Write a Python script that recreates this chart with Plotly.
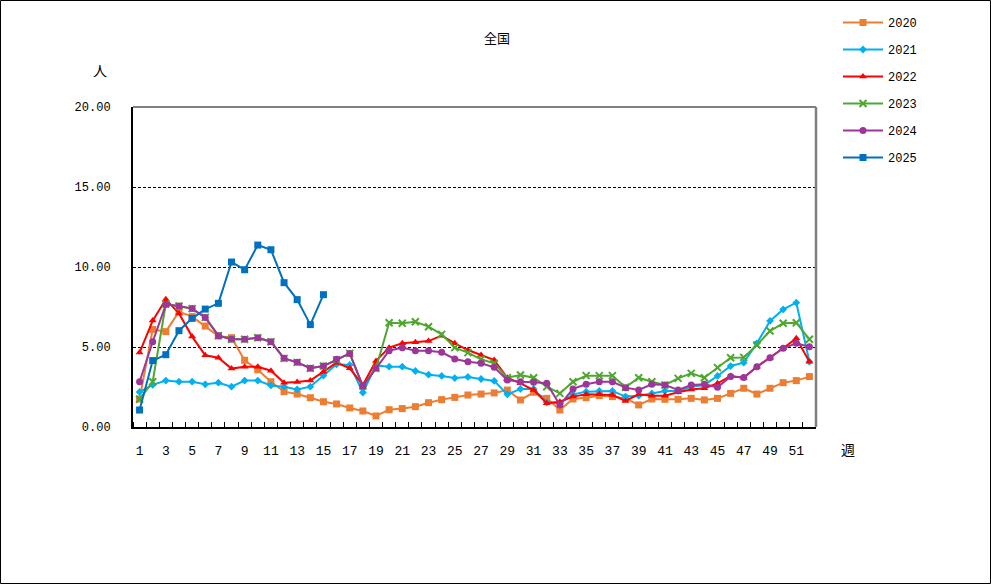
import plotly.graph_objects as go

weeks = list(range(1, 53))
tick_weeks = list(range(1, 53, 2))

y2020 = [1.75, 6.10, 5.96, 7.21, 6.90, 6.31, 5.69, 5.58, 4.17, 3.58,
         2.83, 2.21, 2.06, 1.83, 1.58, 1.44, 1.19, 1.00, 0.69, 1.08,
         1.15, 1.27, 1.52, 1.71, 1.85, 2.00, 2.06, 2.13, 2.31, 1.69,
         2.17, 1.79, 1.06, 1.75, 1.83, 1.96, 1.90, 1.79, 1.38, 1.75,
         1.73, 1.73, 1.79, 1.69, 1.79, 2.10, 2.42, 2.06, 2.42, 2.77,
         2.90, 3.15]
y2021 = [2.19, 2.63, 2.90, 2.83, 2.83, 2.67, 2.77, 2.52, 2.90, 2.90,
         2.60, 2.52, 2.35, 2.52, 3.22, 3.92, 3.88, 2.15, 3.85, 3.77,
         3.77, 3.50, 3.27, 3.19, 3.06, 3.13, 3.00, 2.88, 2.04, 2.38,
         2.38, 1.54, 1.48, 2.04, 2.21, 2.25, 2.25, 1.90, 1.96, 2.10,
         2.25, 2.25, 2.52, 2.63, 3.19, 3.81, 4.02, 5.23, 6.63, 7.35,
         7.77, 4.08]
y2022 = [4.65, 6.65, 7.98, 7.10, 5.65, 4.48, 4.33, 3.65, 3.77, 3.77,
         3.52, 2.77, 2.81, 2.90, 3.46, 4.02, 3.67, 2.63, 4.13, 4.96,
         5.23, 5.29, 5.37, 5.71, 5.23, 4.81, 4.50, 4.19, 3.08, 2.73,
         2.31, 1.48, 1.58, 1.90, 2.04, 2.04, 2.00, 1.63, 2.04, 1.96,
         1.96, 2.17, 2.35, 2.42, 2.73, 3.19, 3.08, 3.77, 4.33, 4.92,
         5.54, 4.08]
y2023 = [1.73, 2.83, 7.69, 7.56, 7.40, 6.85, 5.71, 5.48, 5.48, 5.58,
         5.33, 4.29, 4.04, 3.67, 3.81, 4.19, 4.60, 2.56, 3.67, 6.52,
         6.48, 6.58, 6.27, 5.79, 4.96, 4.65, 4.23, 3.98, 3.08, 3.25,
         3.08, 2.52, 2.10, 2.83, 3.21, 3.21, 3.21, 2.48, 3.08, 2.83,
         2.63, 3.04, 3.35, 3.08, 3.71, 4.33, 4.35, 5.13, 6.00, 6.48,
         6.52, 5.48]
y2024 = [2.83, 5.33, 7.65, 7.56, 7.40, 6.85, 5.71, 5.48, 5.48, 5.58,
         5.33, 4.29, 4.04, 3.67, 3.81, 4.23, 4.60, 2.56, 3.67, 4.77,
         4.96, 4.77, 4.77, 4.67, 4.25, 4.08, 3.98, 3.73, 2.94, 2.83,
         2.79, 2.73, 1.38, 2.38, 2.67, 2.83, 2.83, 2.46, 2.31, 2.67,
         2.63, 2.31, 2.63, 2.67, 2.48, 3.15, 3.10, 3.77, 4.33, 4.92,
         5.23, 5.02]
y2025 = [1.06, 4.15, 4.52, 6.02, 6.79, 7.37, 7.73, 10.31, 9.83, 11.37,
         11.08, 9.02, 7.96, 6.40, 8.27]

series = [
    ("2020", y2020, "#ED7D31", "square", 7),
    ("2021", y2021, "#00B0F0", "diamond", 6),
    ("2022", y2022, "#FF0000", "triangle-up", 7),
    ("2023", y2023, "#4EA72E", "x-thin-open", 7),
    ("2024", y2024, "#9E3598", "circle", 7),
    ("2025", y2025, "#0070C0", "square", 7),
]

NUMFONT = "Liberation Mono, Noto Sans CJK JP, monospace"
CJKFONT = "Noto Sans CJK JP, sans-serif"

fig = go.Figure()
for name, ys, color, sym, size in series:
    mk = dict(symbol=sym, size=size, color=color)
    if sym == "x-thin-open":
        mk["line"] = dict(color=color, width=2)
    fig.add_trace(go.Scatter(
        x=weeks[:len(ys)], y=ys, name=name, mode="lines+markers",
        line=dict(color=color, width=2), marker=mk, legendgroup=name,
    ))

W, H = 991, 584
L, R, T, B = 133, 175, 107, 157
pw, ph = W - L - R, H - T - B

fig.update_layout(
    width=W, height=H,
    margin=dict(l=L, r=R, t=T, b=B, pad=0),
    paper_bgcolor="white", plot_bgcolor="white",
    font=dict(family=NUMFONT, size=12, color="black"),
    showlegend=True,
    legend=dict(
        xref="container", yref="container",
        x=838 / W, y=1 - 8 / H, xanchor="left", yanchor="top",
        font=dict(family=NUMFONT, size=12, color="black"),
        tracegroupgap=8, itemwidth=40, bgcolor="rgba(0,0,0,0)",
    ),
    xaxis=dict(
        range=[0.5, 52.5], tickmode="array", tickvals=tick_weeks,
        ticktext=[str(w) for w in tick_weeks],
        ticks="", showgrid=False, zeroline=False,
        showline=True, linecolor="black", linewidth=2,
        ticklabelstandoff=10, tickfont=dict(size=13),
        minor=dict(tickmode="linear", tick0=0.5, dtick=1, ticks="inside",
                   ticklen=5, tickcolor="black", tickwidth=1, showgrid=False),
    ),
    yaxis=dict(
        range=[0, 20], dtick=5, tickformat=".2f", ticks="",
        showgrid=True, gridcolor="black", gridwidth=1, griddash="3px,2px",
        zeroline=False, showline=True, linecolor="black", linewidth=2,
        ticklabelstandoff=18, tickfont=dict(size=12),
    ),
    shapes=[
        dict(type="line", xref="paper", yref="paper", x0=0, x1=1, y0=1, y1=1,
             line=dict(color="#808080", width=2), layer="above"),
        dict(type="line", xref="paper", yref="paper", x0=1, x1=1, y0=0, y1=1,
             line=dict(color="#808080", width=2.5), layer="above"),
        dict(type="rect", xref="paper", yref="paper",
             x0=(0.5 - L) / pw, x1=(W - 0.5 - L) / pw,
             y0=-(B - 0.5) / ph, y1=1 + (T - 0.5) / ph,
             line=dict(color="black", width=1)),
    ],
    annotations=[
        dict(text="全国", xref="paper", yref="paper",
             x=(497 - L) / pw, y=1 + (T - 37) / ph, showarrow=False,
             xanchor="center", yanchor="middle",
             font=dict(family=CJKFONT, size=13)),
        dict(text="人", xref="paper", yref="paper",
             x=(100 - L) / pw, y=1 + (T - 70) / ph, showarrow=False,
             xanchor="center", yanchor="middle",
             font=dict(family=CJKFONT, size=14)),
        dict(text="週", xref="paper", yref="paper",
             x=(848 - L) / pw, y=-(449 - T - ph) / ph, showarrow=False,
             xanchor="center", yanchor="middle",
             font=dict(family=CJKFONT, size=14)),
    ],
)

fig.write_html(
    "out.html",
    config={"displayModeBar": False},
    post_script="document.body.style.margin='0';document.body.style.overflow='hidden';",
)
